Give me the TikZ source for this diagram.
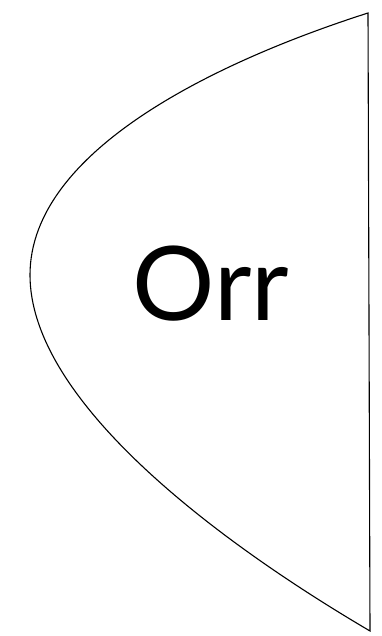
\documentclass[tikz,border=0pt]{standalone}
\usepackage{fontspec}
\setmainfont{Lato}
\usetikzlibrary{positioning}

\begin{document}
\begin{tikzpicture}[
  x=1pt,y=-1pt,
  outline/.style={draw,line width=1.1pt,line join=miter},
  label/.style={font=\fontsize{103}{103}\selectfont,anchor=base,inner sep=0pt},
  every path/.style={thin}
]
  % Frame
  \useasboundingbox (0,0) rectangle (382,636);

  % Corners of the shape
  \coordinate (top) at (368,13);
  \coordinate (tip) at (30,275);
  \coordinate (bottom) at (370,631);

  % Curved side and straight side
  \draw[outline] (top) .. controls (218,61) and (30,150) .. (tip)
    .. controls (30,395) and (200,531) .. (bottom) -- cycle;

  % Label
  \node[label] (name) at (211,320) {Orr};
\end{tikzpicture}
\end{document}
